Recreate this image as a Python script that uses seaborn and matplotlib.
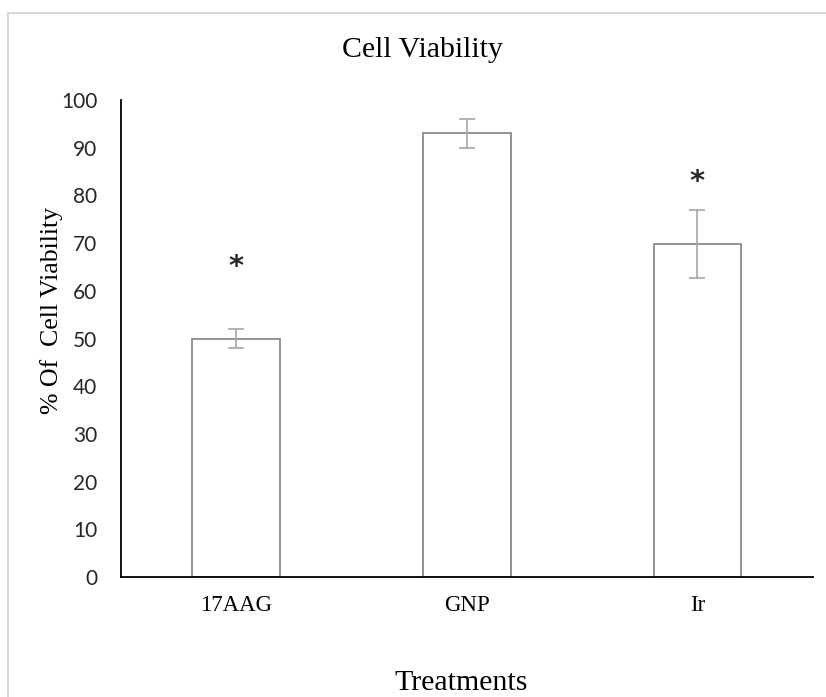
import pandas as pd
import seaborn as sns
import matplotlib.pyplot as plt
from matplotlib.patches import Rectangle

# values
treatments = ["17AAG", "GNP", "Ir"]
viability = [50.0, 93.0, 69.8]
viability_err = [2.0, 3.0, 7.1]
significant = [True, False, True]
star_y = [65.0, None, 82.8]

df = pd.DataFrame({"Treatment": treatments, "Viability": viability})

sns.set_style("white")
serif = "Liberation Serif"
sans = "Lato"

fig = plt.figure(figsize=(8.26, 6.97), dpi=100)
ax = fig.add_axes([0.1465, 0.172, 0.8375, 0.6845])

sns.barplot(data=df, x="Treatment", y="Viability", ax=ax, color="white",
            edgecolor="#808080", linewidth=1.2, width=0.38, errorbar=None)
ax.errorbar(range(len(treatments)), viability, yerr=viability_err, fmt="none",
            ecolor="#a6a6a6", elinewidth=1.2, capsize=5.5, capthick=1.2)

for i, (sig, y) in enumerate(zip(significant, star_y)):
    if sig:
        ax.text(i, y, "*", ha="center", va="center", fontsize=21,
                family="DejaVu Sans", weight="bold", color="#262626")

ax.set_xlim(-0.5, 2.5)
ax.set_ylim(0, 100)
ax.set_yticks(range(0, 101, 10))
ax.tick_params(axis="y", length=0, pad=17, labelsize=15, labelcolor="#262626")
ax.tick_params(axis="x", length=0, pad=13, labelsize=16.5, labelcolor="black")
for lbl in ax.get_yticklabels():
    lbl.set_family(sans)
for lbl in ax.get_xticklabels():
    lbl.set_family(serif)

sns.despine(ax=ax)
for side in ["left", "bottom"]:
    ax.spines[side].set_color("black")
    ax.spines[side].set_linewidth(1.3)

ax.set_xlabel("")
ax.set_ylabel("")
fig.text(52 / 826, 1 - 310 / 697, "% Of  Cell Viability", rotation=90,
         ha="center", va="center", family=serif, fontsize=18.5, color="black")
fig.text(423 / 826, 1 - 50 / 697, "Cell Viability", ha="center", va="center",
         family=serif, fontsize=21.5, color="black")
fig.text(461 / 826, 1 - 683 / 697, "Treatments", ha="center", va="center",
         family=serif, fontsize=21.5, color="black")

# light frame around the chart area
fig.patches.append(Rectangle((8 / 826, -0.1), 1.2, 1.1 - 13 / 697, fill=False,
                             edgecolor="#d9d9d9", linewidth=1.5,
                             transform=fig.transFigure, figure=fig))

fig.savefig("out.png", dpi=100)
